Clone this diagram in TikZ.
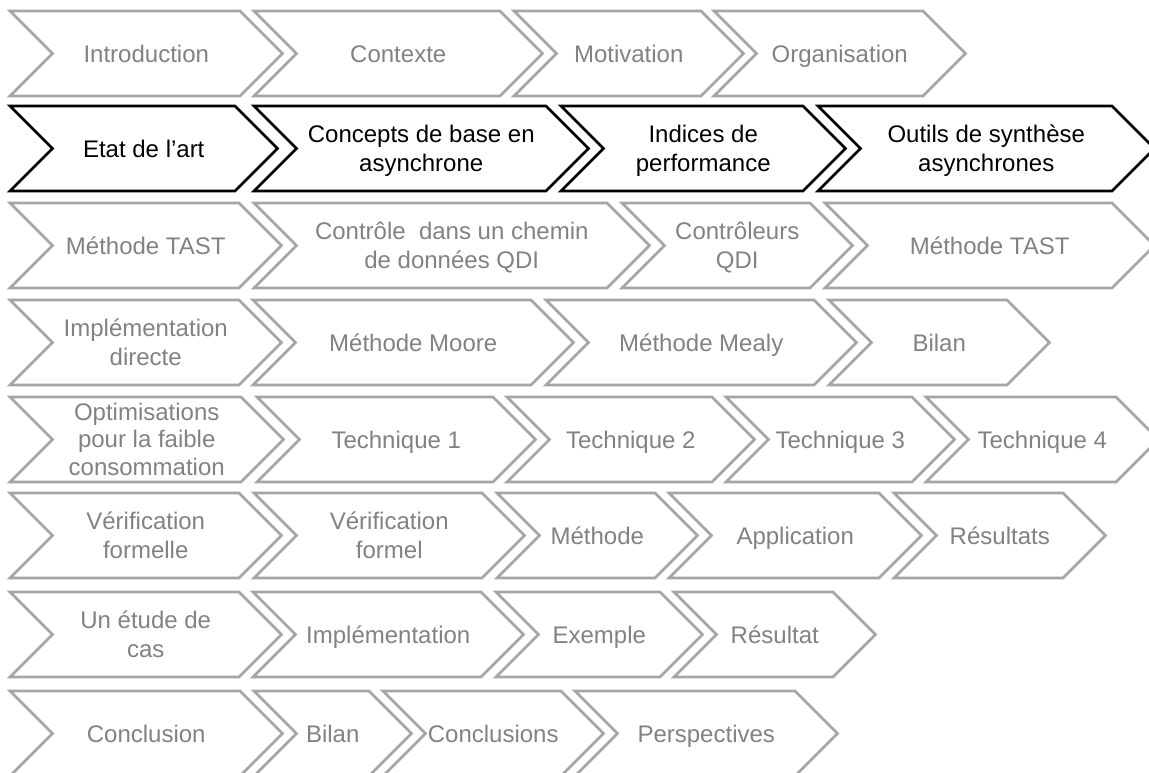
\documentclass[tikz,border=0pt]{standalone}
\usepackage{fontspec}
\setsansfont{Liberation Sans}
\definecolor{stepGray}{RGB}{165,165,165}
\definecolor{labelGray}{RGB}{130,130,130}
\tikzset{
  stepShape/.style={line width=2.6pt, line join=miter, fill=white},
  grayStep/.style={stepShape, draw=stepGray},
  blackStep/.style={stepShape, draw=black},
  stepLabel/.style={
    font=\sffamily\fontsize{24}{26.5}\selectfont,
    align=center, inner sep=0pt
  },
  grayLabel/.style={stepLabel, text=labelGray},
  blackLabel/.style={stepLabel, text=black}
}
% same box above and below every label, so the letters sit in the middle
\newcommand\labelStrut{\rule[-5.2pt]{0pt}{27.6pt}}

\begin{document}
\begin{tikzpicture}[x=1pt, y=-1pt]
    \useasboundingbox (0,0) rectangle (1149,773);
    \fill[white] (0,0) rectangle (1149,773);
    \clip (0,0) rectangle (1149,773);

    % row 1
    \foreach \n/\xa/\xb/\txt in {intro/10/240/Introduction,
        contexte/254/500/Contexte, motivation/514/701/Motivation,
        organisation/714/923/Organisation} {
      \draw[grayStep] (\xa,11) -- (\xb,11) -- ++(42.5,42.5) -- ++(-42.5,42.5)
        -- (\xa,96) -- ++(42.5,-42.5) -- cycle;
      \node[grayLabel] (\n) at ({(\xa+\xb+42.5)/2},53.5) {\labelStrut\txt\labelStrut};
    }

    % row 2 (current chapter)
    \foreach \n/\xa/\xb/\txt in {etat/10/235/{Etat de l’art},
        concepts/254/546/{Concepts de base en\\asynchrone},
        indices/561/803/{Indices de\\performance},
        outils/818/1112/{Outils de synthèse\\asynchrones}} {
      \draw[blackStep] (\xa,106) -- (\xb,106) -- ++(42.5,42.5) -- ++(-42.5,42.5)
        -- (\xa,191) -- ++(42.5,-42.5) -- cycle;
      \node[blackLabel] (\n) at ({(\xa+\xb+42.5)/2},148.5) {\labelStrut\txt\labelStrut};
    }

    % row 3
    \foreach \n/\xa/\xb/\txt in {tastA/10/239/{Méthode TAST},
        controle/254/607/{Contrôle~ dans un chemin\\de données QDI},
        controleurs/622/810/{Contrôleurs\\QDI},
        tastB/825/1112/{Méthode TAST}} {
      \draw[grayStep] (\xa,203) -- (\xb,203) -- ++(42.5,42.5) -- ++(-42.5,42.5)
        -- (\xa,288) -- ++(42.5,-42.5) -- cycle;
      \node[grayLabel] (\n) at ({(\xa+\xb+42.5)/2},245.5) {\labelStrut\txt\labelStrut};
    }

    % row 4
    \foreach \n/\xa/\xb/\txt in {directe/10/239/{Implémentation\\directe},
        moore/253/531/{Méthode Moore}, mealy/546/814/{Méthode Mealy},
        bilanA/829/1007/Bilan} {
      \draw[grayStep] (\xa,300) -- (\xb,300) -- ++(42.5,42.5) -- ++(-42.5,42.5)
        -- (\xa,385) -- ++(42.5,-42.5) -- cycle;
      \node[grayLabel] (\n) at ({(\xa+\xb+42.5)/2},342.5) {\labelStrut\txt\labelStrut};
    }

    % row 5
    \foreach \n/\xa/\xb/\txt in {optim/10/241/{Optimisations\\pour la faible\\consommation},
        techA/257/493/{Technique 1}, techB/507/712/{Technique 2},
        techC/726/912/{Technique 3}, techD/926/1116/{Technique 4}} {
      \draw[grayStep] (\xa,397) -- (\xb,397) -- ++(42.5,42.5) -- ++(-42.5,42.5)
        -- (\xa,482) -- ++(42.5,-42.5) -- cycle;
      \node[grayLabel] (\n) at ({(\xa+\xb+42.5)/2},439.5) {\labelStrut\txt\labelStrut};
    }

    % row 6
    \foreach \n/\xa/\xb/\txt in {verifA/10/239/{Vérification\\formelle},
        verifB/254/482/{Vérification\\formel}, methode/497/655/Méthode,
        application/669/879/Application, resultats/894/1063/Résultats} {
      \draw[grayStep] (\xa,493) -- (\xb,493) -- ++(42.5,42.5) -- ++(-42.5,42.5)
        -- (\xa,578) -- ++(42.5,-42.5) -- cycle;
      \node[grayLabel] (\n) at ({(\xa+\xb+42.5)/2},535.5) {\labelStrut\txt\labelStrut};
    }

    % row 7
    \foreach \n/\xa/\xb/\txt in {etude/10/239/{Un étude de\\cas},
        implem/253/481/Implémentation, exemple/496/660/Exemple,
        resultat/674/833/Résultat} {
      \draw[grayStep] (\xa,592) -- (\xb,592) -- ++(42.5,42.5) -- ++(-42.5,42.5)
        -- (\xa,677) -- ++(42.5,-42.5) -- cycle;
      \node[grayLabel] (\n) at ({(\xa+\xb+42.5)/2},634.5) {\labelStrut\txt\labelStrut};
    }

    % row 8
    \foreach \n/\xa/\xb/\txt in {conclusion/10/240/Conclusion,
        bilanB/254/369/Bilan, conclusions/383/561/Conclusions,
        perspectives/575/795/Perspectives} {
      \draw[grayStep] (\xa,691) -- (\xb,691) -- ++(42.5,42.5) -- ++(-42.5,42.5)
        -- (\xa,776) -- ++(42.5,-42.5) -- cycle;
      \node[grayLabel] (\n) at ({(\xa+\xb+42.5)/2},733.5) {\labelStrut\txt\labelStrut};
    }
\end{tikzpicture}
\end{document}
